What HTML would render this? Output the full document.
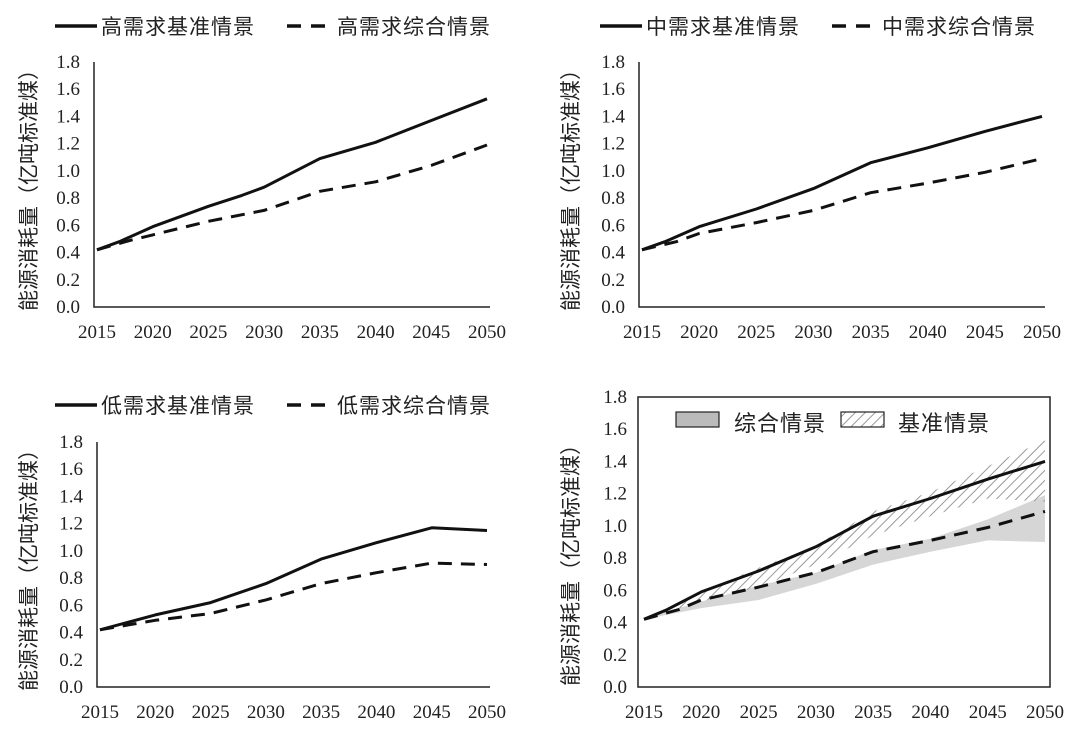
<!DOCTYPE html>
<html><head><meta charset="utf-8"><style>
html,body{margin:0;padding:0;background:#fff;}
svg{display:block;}
.t{font-family:"Liberation Serif","Noto Serif CJK SC",serif;font-size:19px;fill:#222;}
.l{font-family:"Liberation Sans","Noto Sans CJK SC",sans-serif;font-size:21px;fill:#222;letter-spacing:1px;}
</style></head><body>
<svg id="s" width="1080" height="731" xmlns="http://www.w3.org/2000/svg">
<defs>
<pattern id="h" width="7" height="7" patternUnits="userSpaceOnUse" patternTransform="rotate(45)">
<line x1="0" y1="0" x2="0" y2="7" stroke="#999" stroke-width="2"/>
</pattern>
</defs>
</svg>
<script>
var s=document.getElementById('s');var NS='http://www.w3.org/2000/svg';
function el(t,a,txt){var e=document.createElementNS(NS,t);for(var k in a)e.setAttribute(k,a[k]);if(txt)e.textContent=txt;s.appendChild(e);return e;}
var yrs=[2015,2020,2025,2030,2035,2040,2045,2050];
var D={
hb:[[2015,.42],[2017,.48],[2020,.59],[2025,.74],[2028,.82],[2030,.88],[2035,1.09],[2040,1.21],[2045,1.37],[2050,1.53]],
hi:[[2015,.42],[2018,.49],[2020,.53],[2025,.63],[2030,.71],[2035,.85],[2040,.92],[2045,1.04],[2050,1.19]],
mb:[[2015,.42],[2017,.48],[2020,.59],[2025,.72],[2030,.87],[2035,1.06],[2040,1.17],[2045,1.29],[2050,1.40]],
mi:[[2015,.42],[2018,.48],[2020,.54],[2025,.62],[2030,.71],[2035,.84],[2040,.91],[2045,.99],[2050,1.09]],
lb:[[2015,.42],[2020,.53],[2025,.62],[2030,.76],[2035,.94],[2040,1.06],[2045,1.17],[2050,1.15]],
li:[[2015,.42],[2020,.49],[2025,.54],[2030,.64],[2035,.76],[2040,.84],[2045,.91],[2050,.90]]};
function panel(x0,x1,y0,y18,ax,ymid){
 var X=function(v){return x0+(v-2015)/35*(x1-x0)};var Y=function(v){return y0+v/1.8*(y18-y0)};
 for(var i=0;i<=9;i++){var v=i*0.2;el('text',{x:x0-17,y:Y(v)+6,'text-anchor':'end',class:'t'},v.toFixed(1));}
 yrs.forEach(function(y){el('text',{x:X(y),y:y0+31,'text-anchor':'middle',class:'t'},y);});
 el('text',{class:'l',x:0,y:0,style:'font-size:21px;letter-spacing:0',transform:'translate('+(ax)+','+ymid+') rotate(-90)','text-anchor':'middle'},'能源消耗量（亿吨标准煤）');
 return [X,Y];
}
function pts(a,X,Y){return a.map(function(p){return X(p[0]).toFixed(1)+','+Y(p[1]).toFixed(1)}).join(' ');}
function line(a,X,Y,dash){var o={points:pts(a,X,Y),fill:'none',stroke:'#111','stroke-width':3,'stroke-linejoin':'round'};if(dash)o['stroke-dasharray']='14,9';el('polyline',o);}
function band(lo,hi,X,Y,fill){var p=pts(lo,X,Y)+' '+pts(hi.slice().reverse(),X,Y);el('polygon',{points:p,fill:fill,stroke:'none'});}
function axes(x0,x1,y0,y18){el('polyline',{points:(x0-3)+','+(y18)+' '+(x0-3)+','+y0+' '+(x1+3)+','+y0,fill:'none',stroke:'#222','stroke-width':1.5});}
function legend(x,y,a,b){
 el('line',{x1:x,y1:y,x2:x+42,y2:y,stroke:'#111','stroke-width':3.5});
 el('text',{x:x+46,y:y+8,class:'l'},a);
 el('line',{x1:x+232,y1:y,x2:x+278,y2:y,stroke:'#111','stroke-width':3.5,'stroke-dasharray':'14,10'});
 el('text',{x:x+282,y:y+8,class:'l'},b);
}
var r;
r=panel(97,487,307,62,36,185);axes(97,487,307,62);line(D.hb,r[0],r[1]);line(D.hi,r[0],r[1],1);legend(55,26,'高需求基准情景','高需求综合情景');
r=panel(642,1042,307,62,578,185);axes(642,1042,307,62);line(D.mb,r[0],r[1]);line(D.mi,r[0],r[1],1);legend(600,26,'中需求基准情景','中需求综合情景');
r=panel(100,487,687,442,36,565);axes(100,487,687,442);line(D.lb,r[0],r[1]);line(D.li,r[0],r[1],1);legend(55,405,'低需求基准情景','低需求综合情景');
r=panel(644,1045,687,397,578,560);
band(D.li,D.hi,r[0],r[1],'#d6d6d6');band(D.lb,D.hb,r[0],r[1],'url(#h)');
line(D.mb,r[0],r[1]);line(D.mi,r[0],r[1],1);
el('rect',{x:638,y:397,width:412,height:290,fill:'none',stroke:'#222','stroke-width':1.5});
el('rect',{x:676,y:412,width:43,height:15,fill:'#bbb',stroke:'#222','stroke-width':1.2});
el('text',{x:734,y:431,class:'l',style:'font-size:22px'},'综合情景');
el('rect',{x:841,y:412,width:43,height:15,fill:'url(#h)',stroke:'#222','stroke-width':1.2});
el('text',{x:898,y:431,class:'l',style:'font-size:22px'},'基准情景');
</script>
</body></html>
